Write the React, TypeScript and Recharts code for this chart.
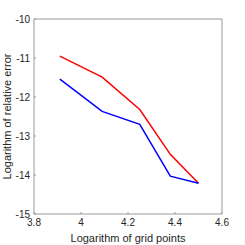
import React from 'react';
import { LineChart, Line, XAxis, YAxis } from 'recharts';

// log10 of grid points and log10 of relative error
const gridLog = [3.91, 4.09, 4.25, 4.38, 4.5];
const redErr = [-10.95, -11.49, -12.32, -13.47, -14.21];
const blueErr = [-11.54, -12.37, -12.7, -14.03, -14.21];

const xTicks = [3.8, 4, 4.2, 4.4, 4.6];
const yTicks = [-15, -14, -13, -12, -11, -10];

const data = gridLog.map((x, i) => ({ x, red: redErr[i], blue: blueErr[i] }));

const FONT = '"Liberation Sans", Arial, sans-serif';
const AXIS = '#9a9a9a';
const TEXT = '#262626';

const App: React.FC = () => {
  return (
    <div style={{ position: 'absolute', left: 0, top: 0, width: 245, height: 245, background: '#fff', fontFamily: FONT }}>
      <LineChart
        width={245}
        height={245}
        data={data}
        margin={{ top: 18, right: 22, left: 0, bottom: 0 }}
      >
        <XAxis
          dataKey="x"
          type="number"
          domain={[3.8, 4.6]}
          ticks={xTicks}
          height={31}
          stroke={AXIS}
          tickSize={-2}
          tickMargin={6.5}
          tick={{ fill: TEXT, fontSize: 10, fontFamily: FONT }}
          label={{ value: 'Logarithm of grid points', position: 'insideBottom', offset: 3, fill: TEXT, fontSize: 11, fontFamily: FONT }}
        />
        <XAxis
          xAxisId="top"
          dataKey="x"
          type="number"
          orientation="top"
          domain={[3.8, 4.6]}
          ticks={xTicks}
          height={1}
          stroke={AXIS}
          tickSize={-2}
          tick={false}
        />
        <YAxis
          type="number"
          domain={[-15, -10]}
          ticks={yTicks}
          width={34}
          stroke={AXIS}
          tickSize={-2}
          tickMargin={6}
          tick={{ fill: TEXT, fontSize: 10, fontFamily: FONT }}
          label={{ value: 'Logarithm of relative error', angle: -90, position: 'center', dx: -9.5, fill: TEXT, fontSize: 11, fontFamily: FONT }}
        />
        <YAxis
          yAxisId="right"
          type="number"
          orientation="right"
          domain={[-15, -10]}
          ticks={yTicks}
          width={1}
          stroke={AXIS}
          tickSize={-2}
          tick={false}
        />
        <Line dataKey="red" stroke="#ff0000" strokeWidth={1.5} dot={false} isAnimationActive={false} />
        <Line dataKey="blue" stroke="#0000ff" strokeWidth={1.5} dot={false} isAnimationActive={false} />
      </LineChart>
    </div>
  );
};

export default App;
